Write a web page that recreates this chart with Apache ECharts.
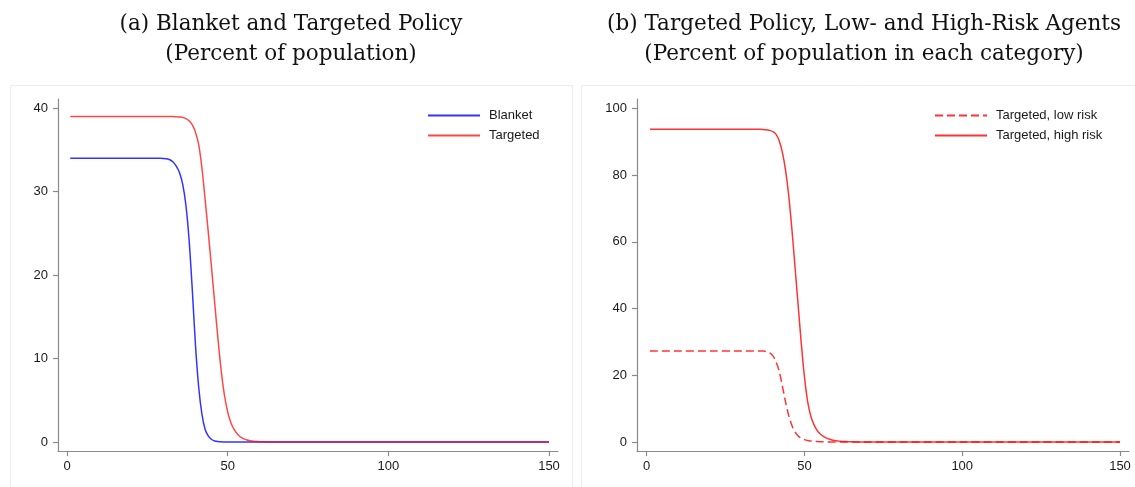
<!DOCTYPE html>
<html>
<head>
<meta charset="utf-8">
<script src="https://cdn.jsdelivr.net/npm/echarts@6/dist/echarts.min.js"></script>
<style>
  html, body { margin: 0; padding: 0; background: #fff; }
  #chart { width: 1135px; height: 487px; }
</style>
</head>
<body>
<div id="chart"></div>
<script>
// Days at which the simulated shares are recorded (dense around the collapse)
const days = [1, 10, 20,
  28, 29, 30, 31, 32, 33, 34, 35, 36, 37, 38, 39, 40, 41, 42, 43, 44, 45, 46,
  47, 48, 49, 50, 51, 52, 53, 54, 55, 56, 57, 58, 59, 60, 61, 62, 63, 64, 65,
  70, 80, 100, 120, 150];

// Panel (a): percent of population
const blanket = [34, 34, 34,
  34, 33.99, 33.97, 33.93, 33.82, 33.55, 33.05, 32.3, 30.9, 28.4, 24.2, 18.2, 11.5, 6.5, 3.3, 1.5, 0.7, 0.3, 0.12,
  0.05, 0.02, 0.01, 0, 0, 0, 0, 0, 0, 0, 0, 0, 0, 0, 0, 0, 0, 0, 0,
  0, 0, 0, 0, 0];
const targeted = [39, 39, 39,
  39, 39, 39, 39, 39, 38.99, 38.98, 38.95, 38.9, 38.75, 38.5, 38.0, 37.1, 35.6, 32.8, 29.0, 25.0, 20.8, 16.5,
  12.3, 8.5, 5.6, 3.6, 2.3, 1.5, 0.95, 0.6, 0.38, 0.24, 0.15, 0.09, 0.06, 0.03, 0.02, 0.01, 0, 0, 0,
  0, 0, 0, 0, 0];

// Panel (b): percent of population in each risk category
const lowRisk = [27.3, 27.3, 27.3,
  27.3, 27.3, 27.3, 27.3, 27.3, 27.3, 27.3, 27.3, 27.3, 27.25, 27.1, 26.7, 25.8, 24.0, 21.2, 16.8, 12.0, 8.0, 5.0,
  3.0, 1.8, 1.1, 0.7, 0.45, 0.3, 0.2, 0.12, 0.08, 0.05, 0.03, 0.02, 0.01, 0, 0, 0, 0, 0, 0,
  0, 0, 0, 0, 0];
const highRisk = [93.7, 93.7, 93.7,
  93.7, 93.7, 93.7, 93.7, 93.7, 93.7, 93.7, 93.7, 93.7, 93.65, 93.55, 93.4, 93.0, 92.2, 90.3, 86.8, 81.5, 74.0, 64.0,
  52.6, 41.0, 29.5, 19.5, 12.2, 7.8, 5.2, 3.5, 2.4, 1.7, 1.15, 0.8, 0.55, 0.38, 0.26, 0.18, 0.12, 0.08, 0.05,
  0.01, 0, 0, 0, 0];

// Tick labels
const xTicks = [0, 50, 100, 150];
const yTicksA = [0, 10, 20, 30, 40];
const yTicksB = [0, 20, 40, 60, 80, 100];

const titleA = '(a) Blanket and Targeted Policy\n(Percent of population)';
const titleB = '(b) Targeted Policy, Low- and High-Risk Agents\n(Percent of population in each category)';

const pairs = vals => days.map((d, i) => [d, vals[i]]);

const axisGray = '#8a8a8a';
const labelFont = { fontFamily: 'Liberation Sans', fontSize: 13, color: '#1a1a1a' };

function xAxis(gridIndex, min, max) {
  return {
    type: 'value', gridIndex, min, max,
    axisLine: { show: true, onZero: false, lineStyle: { color: axisGray, width: 1.2 } },
    axisTick: { show: true, length: 5, customValues: xTicks, lineStyle: { color: axisGray, width: 1.2 } },
    axisLabel: Object.assign({ customValues: xTicks, margin: 9 }, labelFont),
    splitLine: { show: false }
  };
}
function yAxis(gridIndex, min, max, ticks) {
  return {
    type: 'value', gridIndex, min, max,
    axisLine: { show: true, onZero: false, lineStyle: { color: axisGray, width: 1.2 } },
    axisTick: { show: true, length: 5, customValues: ticks, lineStyle: { color: axisGray, width: 1.2 } },
    axisLabel: Object.assign({ customValues: ticks, margin: 10 }, labelFont),
    splitLine: { show: false }
  };
}
function line(name, vals, axis, color, opacity, type) {
  return {
    name, type: 'line', xAxisIndex: axis, yAxisIndex: axis,
    data: pairs(vals), showSymbol: false, symbol: 'none',
    smooth: 0.3,
    lineStyle: { color, width: 1.5, opacity, type: type || 'solid' },
    itemStyle: { color },
    emphasis: { disabled: true }
  };
}
function legend(names, left) {
  return {
    data: names, orient: 'vertical', left, top: 104,
    itemWidth: 52, itemHeight: 14, itemGap: 7, selectedMode: false,
    itemStyle: { opacity: 0 },
    textStyle: { fontFamily: 'Liberation Sans', fontSize: 13, color: '#1a1a1a', padding: [0, 0, 0, 4] }
  };
}

const chart = echarts.init(document.getElementById('chart'), null, { renderer: 'canvas' });
chart.setOption({
  backgroundColor: '#ffffff',
  animation: false,
  graphic: [
    { type: 'rect', z: -10, shape: { x: 10.5, y: 85.5, width: 562, height: 420 },
      style: { fill: '#ffffff', stroke: '#ececec', lineWidth: 1 } },
    { type: 'rect', z: -10, shape: { x: 581.5, y: 85.5, width: 560, height: 420 },
      style: { fill: '#ffffff', stroke: '#ececec', lineWidth: 1 } },
    { type: 'text', x: 291, y: 9, style: { text: titleA, textAlign: 'center', fill: '#111',
      fontFamily: 'DejaVu Serif', fontSize: 21.5, lineHeight: 30 } },
    { type: 'text', x: 864, y: 9, style: { text: titleB, textAlign: 'center', fill: '#111',
      fontFamily: 'DejaVu Serif', fontSize: 21.5, lineHeight: 30 } }
  ],
  grid: [
    { left: 58, top: 99, width: 500, height: 352 },
    { left: 637, top: 99, width: 492, height: 352 }
  ],
  xAxis: [xAxis(0, -2.8, 152.8), xAxis(1, -3.07, 152.85)],
  yAxis: [yAxis(0, -1.08, 41.1, yTicksA), yAxis(1, -2.7, 102.8, yTicksB)],
  legend: [
    legend(['Blanket', 'Targeted'], 422),
    legend(['Targeted, low risk', 'Targeted, high risk'], 929)
  ],
  series: [
    line('Blanket', blanket, 0, '#0000ff', 0.8),
    line('Targeted', targeted, 0, '#ff0000', 0.72),
    line('Targeted, low risk', lowRisk, 1, '#ff0000', 0.8, [8, 4]),
    line('Targeted, high risk', highRisk, 1, '#ff0000', 0.8)
  ]
});
</script>
</body>
</html>
